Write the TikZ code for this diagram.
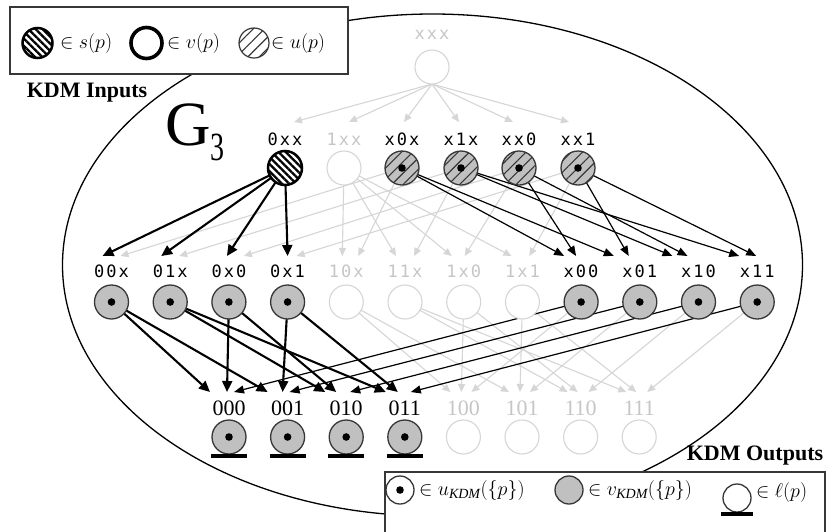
\documentclass[tikz,border=0pt]{standalone}
\usepackage{fix-cm}
\usepackage{fontspec}
\setmainfont{Liberation Serif}
\newfontfamily\lblfont[LetterSpace=12]{DejaVu Sans Mono}
\usetikzlibrary{arrows.meta,patterns.meta,calc}
\pgfdeclarelayer{back}
\pgfdeclarelayer{edges}
\pgfsetlayers{back,edges,main}

\definecolor{litegray}{RGB}{214,214,214}
\definecolor{litetext}{RGB}{198,198,198}
\definecolor{nodegray}{RGB}{192,192,192}
\definecolor{rimgray}{RGB}{55,55,55}

\tikzset{
  every node/.style={inner sep=0pt,outer sep=0pt},
  vtx/.style={circle,minimum size=34pt},
  dimnode/.style={vtx,draw=litegray,line width=1.1pt,fill=white},
  dotnode/.style={vtx,draw=rimgray,line width=1.3pt,fill=nodegray,
    path picture={\fill[black] (path picture bounding box.center) circle (3.8pt);}},
  hatchnode/.style={dotnode,preaction={fill=nodegray},
    pattern={Lines[angle=45,distance=8pt,line width=1.1pt]},pattern color=rimgray},
  srcnode/.style={vtx,draw=black,line width=2.5pt,preaction={fill=white},
    pattern={Lines[angle=-45,distance=5pt,line width=2.3pt]},pattern color=black},
  outbar/.style={line width=3.5pt,line cap=butt},
  lvllbl/.style={font=\lblfont\fontsize{17}{20}\selectfont,anchor=base},
  leaflbl/.style={font=\fontsize{22}{26}\selectfont,anchor=base},
  liteedge/.style={draw=litegray,line width=1.1pt,-{Triangle[length=8pt,width=7pt]}},
  boldedge/.style={draw=black,line width=2.1pt,-{Triangle[length=11pt,width=10pt]}},
  fineedge/.style={draw=black,line width=1.2pt,-{Triangle[length=10pt,width=8pt]}},
  legendbox/.style={draw=rimgray,line width=1.5pt,fill=white},
  legendtxt/.style={font=\fontsize{20}{24}\selectfont,anchor=west},
  headtxt/.style={font=\bfseries\fontsize{22}{26}\selectfont,anchor=base},
}

\begin{document}
\begin{tikzpicture}[x=1pt,y=-1pt]
\useasboundingbox (0,0) rectangle (833,531);

% background and the enclosing ellipse
\begin{pgfonlayer}{back}
  \fill[white] (0,0) rectangle (833,531);
  \draw[line width=1.3pt] (432.5,265) ellipse [x radius=370pt, y radius=251pt];
\end{pgfonlayer}

% root pattern
\node[dimnode] (axxx) at (432,67) {};
\node[lvllbl,text=litetext] (laxxx) at (432,39) {xxx};

% first level
\foreach \nm/\xx/\lab/\sty/\tc in {
  a0xx/285/0xx/srcnode/black, a1xx/344/1xx/dimnode/litetext,
  ax0x/402/x0x/hatchnode/black, ax1x/461/x1x/hatchnode/black,
  axx0/519/xx0/hatchnode/black, axx1/578/xx1/hatchnode/black}
{
  \node[\sty] (\nm) at (\xx,168) {};
  \node[lvllbl,text=\tc] (l\nm) at (\xx,145) {\lab};
}

% second level
\foreach \nm/\xx/\lab/\sty/\tc in {
  b00x/111.5/00x/dotnode/black, b01x/170.2/01x/dotnode/black,
  b0x0/228.9/0x0/dotnode/black, b0x1/287.6/0x1/dotnode/black,
  b10x/346.3/10x/dimnode/litetext, b11x/405.0/11x/dimnode/litetext,
  b1x0/463.7/1x0/dimnode/litetext, b1x1/522.4/1x1/dimnode/litetext,
  bx00/581.1/x00/dotnode/black, bx01/639.8/x01/dotnode/black,
  bx10/698.5/x10/dotnode/black, bx11/757.2/x11/dotnode/black}
{
  \node[\sty] (\nm) at (\xx,302) {};
  \node[lvllbl,text=\tc] (l\nm) at (\xx,277) {\lab};
}

% leaves
\foreach \nm/\xx/\lab/\sty/\tc in {
  c000/229.0/000/dotnode/black, c001/287.6/001/dotnode/black,
  c010/346.2/010/dotnode/black, c011/404.8/011/dotnode/black,
  c100/463.4/100/dimnode/litetext, c101/522.0/101/dimnode/litetext,
  c110/580.6/110/dimnode/litetext, c111/639.2/111/dimnode/litetext}
{
  \node[\sty] (\nm) at (\xx,437) {};
  \node[leaflbl,text=\tc] (l\nm) at (\xx,415) {\lab};
}
\foreach \nm in {c000,c001,c010,c011}
  \draw[outbar] ($(\nm.south)+(-18,2)$) -- ($(\nm.south)+(18,2)$);

% connectors
\begin{pgfonlayer}{edges}
  \foreach \t/\dx in {a0xx/9, a1xx/5, ax0x/2, ax1x/-2, axx0/-6, axx1/-9}
  {
    \coordinate (tip-axxx-\t) at ($(\t)+(\dx,-46)$);
    \draw[liteedge] (axxx.south) -- (tip-axxx-\t);
  }
  \foreach \s/\t/\dx in {
    ax0x/b00x/9, ax1x/b01x/9, axx0/b0x0/15, axx1/b0x1/9,
    a1xx/b10x/-4, ax0x/b10x/12, a1xx/b11x/-9, ax1x/b11x/9,
    a1xx/b1x0/-12, axx0/b1x0/1, a1xx/b1x1/-11, axx1/b1x1/7}
  {
    \coordinate (tip-\s-\t) at ($(\t)+(\dx,-46)$);
    \draw[liteedge] (\s) -- (tip-\s-\t);
  }
  \foreach \s/\t/\dx in {
    b10x/c100/-13, b1x0/c100/-2, bx00/c100/8,
    b10x/c101/-13, b1x1/c101/-2, bx01/c101/8,
    b11x/c110/-13, b1x0/c110/-3, bx10/c110/8,
    b11x/c111/-13, b1x1/c111/-3, bx11/c111/8}
  {
    \coordinate (tip-\s-\t) at ($(\t)+(\dx,-45)$);
    \draw[liteedge] (\s) -- (tip-\s-\t);
  }
  \foreach \s/\t/\dx/\sty in {
    ax0x/bx00/-17/fineedge, axx0/bx00/-5/fineedge,
    ax0x/bx01/-26/fineedge, axx1/bx01/-11/fineedge,
    ax1x/bx10/-26/fineedge, axx0/bx10/-11/fineedge,
    ax1x/bx11/-18/fineedge, axx1/bx11/-1/fineedge,
    a0xx/b00x/-9/boldedge, a0xx/b01x/-9/boldedge,
    a0xx/b0x0/-2/boldedge, a0xx/b0x1/0/boldedge}
  {
    \coordinate (tip-\s-\t) at ($(\t)+(\dx,-46)$);
    \draw[\sty] (\s) -- (tip-\s-\t);
  }
  \foreach \s/\t/\dx/\sty in {
    bx00/c000/5/fineedge, bx01/c001/2/fineedge,
    bx10/c010/4/fineedge, bx11/c011/6/fineedge,
    b00x/c000/-19/boldedge, b0x0/c000/-2/boldedge,
    b00x/c001/-20/boldedge, b0x1/c001/-5/boldedge,
    b01x/c010/-21/boldedge, b0x0/c010/-10/boldedge,
    b01x/c011/-19/boldedge, b0x1/c011/-7/boldedge}
  {
    \coordinate (tip-\s-\t) at ($(\t)+(\dx,-45)$);
    \draw[\sty] (\s) -- (tip-\s-\t);
  }
\end{pgfonlayer}

% graph name and headings
\node[anchor=base west] (gname) at (165,145)
  {\fontsize{63}{63}\selectfont G\raisebox{-15pt}{\scalebox{0.7}[1]{\fontsize{40}{40}\selectfont 3}}};
\node[headtxt] (kin) at (87,97) {KDM Inputs};
\node[headtxt] (kout) at (755,460) {KDM Outputs};

% input legend
\draw[legendbox] (10,7) rectangle (348,74);
\node[srcnode,minimum size=30pt] (lgs) at (37.5,43) {};
\node[legendtxt] (lgst) at (60,43) {$\in s(p)$};
\node[vtx,minimum size=31pt,draw=black,line width=3.6pt] (lgv) at (146.5,43) {};
\node[legendtxt] (lgvt) at (167,43) {$\in v(p)$};
\node[vtx,minimum size=30pt,draw=rimgray,line width=1.2pt,preaction={fill=white},
  pattern={Lines[angle=45,distance=8pt,line width=1.1pt]},pattern color=rimgray] (lgu) at (254,43) {};
\node[legendtxt] (lgut) at (271,43) {$\in u(p)$};

% output legend
\draw[legendbox] (385,535) -- (385,472) -- (825,472) -- (825,535);
\node[dotnode,fill=white,minimum size=28pt] (lguk) at (400,490) {};
\node[legendtxt] (lgukt) at (419,490) {$\in u_{\mathit{KDM}}(\{p\})$};
\node[vtx,minimum size=28pt,draw=rimgray,line width=1.3pt,fill=nodegray] (lgvk) at (569,490) {};
\node[legendtxt] (lgvkt) at (588,490) {$\in v_{\mathit{KDM}}(\{p\})$};
\node[vtx,minimum size=28pt,draw=rimgray,line width=1.3pt,fill=white] (lgl) at (737,498) {};
\draw[outbar] ($(lgl.south)+(-16,2)$) -- ($(lgl.south)+(16,2)$);
\node[legendtxt] (lglt) at (756,492) {$\in \ell(p)$};
\end{tikzpicture}
\end{document}
